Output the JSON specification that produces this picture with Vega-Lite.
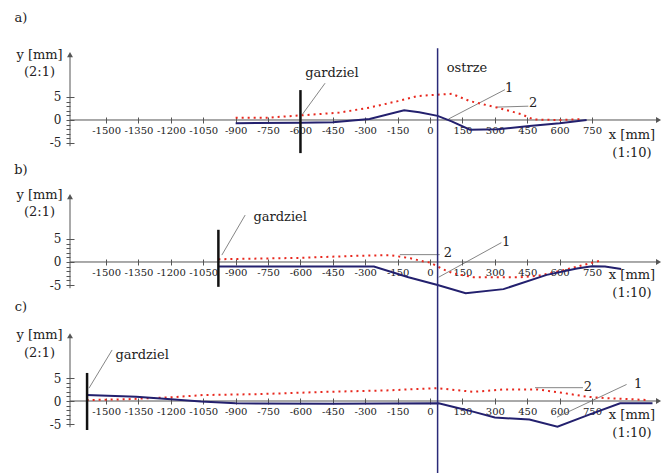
{
  "$schema": "https://vega.github.io/schema/vega-lite/v6.json",
  "padding": {"left": 5, "top": 5, "right": 5, "bottom": 0},
  "spacing": 0,
  "bounds": "flush",
  "config": {
    "view": {"stroke": null},
    "font": "DejaVu Serif",
    "axis": {
      "grid": false, "domain": false, "title": null,
      "labelFont": "DejaVu Serif", "labelFontSize": 10, "labelColor": "#222",
      "tickColor": "#555", "tickWidth": 1,
      "labelOverlap": false, "labelFlush": false, "labelBound": false
    }
  },
  "datasets": {
    "curves": [
      {"p":"a","s":"1","x":-900,"y":-0.7},{"p":"a","s":"1","x":-600,"y":-0.6},{"p":"a","s":"1","x":-450,"y":-0.5},{"p":"a","s":"1","x":-280,"y":0.2},{"p":"a","s":"1","x":-120,"y":2.1},{"p":"a","s":"1","x":-50,"y":1.7},{"p":"a","s":"1","x":35,"y":0.9},{"p":"a","s":"1","x":100,"y":-0.3},{"p":"a","s":"1","x":185,"y":-2.1},{"p":"a","s":"1","x":315,"y":-2.0},{"p":"a","s":"1","x":460,"y":-1.3},{"p":"a","s":"1","x":600,"y":-0.7},{"p":"a","s":"1","x":725,"y":0},
      {"p":"a","s":"2","x":-900,"y":0.5},{"p":"a","s":"2","x":-750,"y":0.5},{"p":"a","s":"2","x":-600,"y":1.0},{"p":"a","s":"2","x":-420,"y":1.6},{"p":"a","s":"2","x":-280,"y":2.7},{"p":"a","s":"2","x":-150,"y":4.1},{"p":"a","s":"2","x":-60,"y":5.2},{"p":"a","s":"2","x":0,"y":5.4},{"p":"a","s":"2","x":100,"y":5.7},{"p":"a","s":"2","x":185,"y":4.1},{"p":"a","s":"2","x":310,"y":2.7},{"p":"a","s":"2","x":420,"y":1.3},{"p":"a","s":"2","x":480,"y":0.1},{"p":"a","s":"2","x":600,"y":0},{"p":"a","s":"2","x":710,"y":0.2},
      {"p":"b","s":"1","x":-980,"y":-1.0},{"p":"b","s":"1","x":-600,"y":-1.0},{"p":"b","s":"1","x":-260,"y":-1.0},{"p":"b","s":"1","x":-100,"y":-3.3},{"p":"b","s":"1","x":35,"y":-5.0},{"p":"b","s":"1","x":165,"y":-6.8},{"p":"b","s":"1","x":340,"y":-5.9},{"p":"b","s":"1","x":540,"y":-2.8},{"p":"b","s":"1","x":680,"y":-1.4},{"p":"b","s":"1","x":750,"y":-0.9},{"p":"b","s":"1","x":810,"y":-1.0},{"p":"b","s":"1","x":885,"y":-1.5},
      {"p":"b","s":"2","x":-980,"y":0.6},{"p":"b","s":"2","x":-600,"y":0.9},{"p":"b","s":"2","x":-370,"y":1.3},{"p":"b","s":"2","x":-185,"y":1.5},{"p":"b","s":"2","x":-90,"y":0.8},{"p":"b","s":"2","x":-30,"y":0.1},{"p":"b","s":"2","x":0,"y":-0.1},{"p":"b","s":"2","x":60,"y":-1.6},{"p":"b","s":"2","x":110,"y":-2.5},{"p":"b","s":"2","x":200,"y":-3.3},{"p":"b","s":"2","x":420,"y":-3.3},{"p":"b","s":"2","x":500,"y":-3.0},{"p":"b","s":"2","x":570,"y":-2.3},{"p":"b","s":"2","x":650,"y":-1.4},{"p":"b","s":"2","x":730,"y":-0.4},{"p":"b","s":"2","x":790,"y":0.3},
      {"p":"c","s":"1","x":-1590,"y":1.3},{"p":"c","s":"1","x":-1360,"y":0.9},{"p":"c","s":"1","x":-1200,"y":0.4},{"p":"c","s":"1","x":-1060,"y":-0.1},{"p":"c","s":"1","x":-900,"y":-0.5},{"p":"c","s":"1","x":-450,"y":-0.6},{"p":"c","s":"1","x":40,"y":-0.5},{"p":"c","s":"1","x":110,"y":-1.3},{"p":"c","s":"1","x":190,"y":-2.2},{"p":"c","s":"1","x":300,"y":-3.6},{"p":"c","s":"1","x":460,"y":-4.0},{"p":"c","s":"1","x":590,"y":-5.6},{"p":"c","s":"1","x":740,"y":-2.9},{"p":"c","s":"1","x":880,"y":-0.5},{"p":"c","s":"1","x":1030,"y":-0.5},
      {"p":"c","s":"2","x":-1590,"y":0.2},{"p":"c","s":"2","x":-1400,"y":0.4},{"p":"c","s":"2","x":-1200,"y":0.8},{"p":"c","s":"2","x":-1050,"y":1.3},{"p":"c","s":"2","x":-790,"y":1.5},{"p":"c","s":"2","x":-480,"y":2.0},{"p":"c","s":"2","x":-200,"y":2.3},{"p":"c","s":"2","x":30,"y":2.8},{"p":"c","s":"2","x":200,"y":2.0},{"p":"c","s":"2","x":340,"y":2.5},{"p":"c","s":"2","x":500,"y":2.5},{"p":"c","s":"2","x":610,"y":1.8},{"p":"c","s":"2","x":730,"y":0.9},{"p":"c","s":"2","x":830,"y":0.6},{"p":"c","s":"2","x":970,"y":0.3},{"p":"c","s":"2","x":1010,"y":0.2}
    ],
    "axes": [
      {"p":"a","x":-1667,"y":0,"x2":1055,"y2":0},{"p":"a","x":-1667,"y":-5.7,"x2":-1667,"y2":14},
      {"p":"b","x":-1667,"y":0,"x2":1055,"y2":0},{"p":"b","x":-1667,"y":-5.7,"x2":-1667,"y2":14},
      {"p":"c","x":-1667,"y":0,"x2":1055,"y2":0},{"p":"c","x":-1667,"y":-5.7,"x2":-1667,"y2":14}
    ],
    "arrows": [
      {"p":"a","k":"x","x":1058,"y":0},{"p":"a","k":"y","x":-1667,"y":14.2},
      {"p":"b","k":"x","x":1058,"y":0},{"p":"b","k":"y","x":-1667,"y":14.2},
      {"p":"c","k":"x","x":1058,"y":0},{"p":"c","k":"y","x":-1667,"y":14.2}
    ],
    "ostrze": [
      {"p":"a","x":35,"y":15.6,"y2":-8.7},
      {"p":"b","x":35,"y":22.17,"y2":-8.26},
      {"p":"c","x":35,"y":21.96,"y2":-15.65}
    ],
    "gardziel": [
      {"p":"a","x":-600,"y":6.5,"y2":-7.2},
      {"p":"b","x":-980,"y":7.0,"y2":-5.4},
      {"p":"c","x":-1588,"y":6.1,"y2":-6.3}
    ],
    "leaders": [
      {"p":"a","x":-593,"y":1.1,"x2":-486,"y2":8.0},{"p":"a","x":85,"y":0.2,"x2":347,"y2":6.6},{"p":"a","x":310,"y":2.8,"x2":455,"y2":3.0},
      {"p":"b","x":-964,"y":1.5,"x2":-856,"y2":10.2},{"p":"b","x":-140,"y":1.6,"x2":45,"y2":1.6},{"p":"b","x":40,"y":-3.3,"x2":330,"y2":4.2},
      {"p":"c","x":-1579,"y":2.8,"x2":-1472,"y2":11.1},{"p":"c","x":486,"y":2.9,"x2":708,"y2":2.9},{"p":"c","x":588,"y":-3.5,"x2":910,"y2":3.6}
    ],
    "labels": [
      {"p":"a","t":"a)","x":-1894,"y":22.2},{"p":"a","t":"y [mm]","x":-1808,"y":14.1},{"p":"a","t":"(2:1)","x":-1808,"y":10.4},{"p":"a","t":"gardziel","x":-454,"y":10.2},{"p":"a","t":"ostrze","x":171,"y":11.3},{"p":"a","t":"1","x":366,"y":6.9},{"p":"a","t":"2","x":477,"y":3.7},{"p":"a","t":"x [mm]","x":935,"y":-3.3},{"p":"a","t":"(1:10)","x":935,"y":-7.2},
      {"p":"b","t":"b)","x":-1894,"y":20.0},{"p":"b","t":"y [mm]","x":-1808,"y":14.6},{"p":"b","t":"(2:1)","x":-1808,"y":10.9},{"p":"b","t":"gardziel","x":-694,"y":9.8},{"p":"b","t":"2","x":83,"y":2.0},{"p":"b","t":"1","x":352,"y":4.3},{"p":"b","t":"x [mm]","x":935,"y":-2.8},{"p":"b","t":"(1:10)","x":935,"y":-6.7},
      {"p":"c","t":"c)","x":-1894,"y":20.5},{"p":"c","t":"y [mm]","x":-1808,"y":14.3},{"p":"c","t":"(2:1)","x":-1808,"y":10.4},{"p":"c","t":"gardziel","x":-1333,"y":10.0},{"p":"c","t":"2","x":731,"y":3.0},{"p":"c","t":"1","x":963,"y":3.6},{"p":"c","t":"x [mm]","x":935,"y":-3.0},{"p":"c","t":"(1:10)","x":935,"y":-7.0}
    ]
  },
  "vconcat": [
    {
      "width": 657, "height": 155,
      "encoding": {
        "x": {"field": "x", "type": "quantitative", "scale": {"domain": [-1968, 1074], "nice": false, "zero": false},
          "axis": {"orient": "bottom", "offset": -43, "tickSize": 6, "labelPadding": 2, "values": [-1500,-1350,-1200,-1050,-900,-750,-600,-450,-300,-150,0,150,300,450,600,750], "labelExpr": "'' + datum.value"}},
        "y": {"field": "y", "type": "quantitative", "scale": {"domain": [-8.7, 25.0], "nice": false, "zero": false},
          "axis": {"orient": "left", "offset": -69, "tickSize": 8, "labelPadding": 5, "values": [-5,-4,-3,-2,-1,0,1,2,3,4,5],
            "tickDash": {"condition": {"test": "datum.value % 5 === 0", "value": []}, "value": [0, 4, 4, 100]},
            "labelExpr": "datum.value % 5 === 0 ? '' + datum.value : ''", "labelFontSize": 12}}
      },
      "layer": [
        {"data": {"name": "axes"}, "transform": [{"filter": "datum.p === 'a'"}], "mark": {"type": "rule", "color": "#555", "strokeWidth": 1}, "encoding": {"x2": {"field": "x2"}, "y2": {"field": "y2"}}},
        {"data": {"name": "arrows"}, "transform": [{"filter": "datum.p === 'a' && datum.k === 'x'"}], "mark": {"type": "point", "shape": "triangle-right", "filled": true, "size": 35, "color": "#555", "opacity": 1}},
        {"data": {"name": "arrows"}, "transform": [{"filter": "datum.p === 'a' && datum.k === 'y'"}], "mark": {"type": "point", "shape": "triangle-up", "filled": true, "size": 35, "color": "#555", "opacity": 1}},
        {"data": {"name": "leaders"}, "transform": [{"filter": "datum.p === 'a'"}], "mark": {"type": "rule", "color": "#666", "strokeWidth": 0.8}, "encoding": {"x2": {"field": "x2"}, "y2": {"field": "y2"}}},
        {"data": {"name": "curves"}, "transform": [{"filter": "datum.p === 'a' && datum.s === '2'"}], "mark": {"type": "line", "color": "#e8281e", "strokeWidth": 2, "strokeDash": [2, 4]}},
        {"data": {"name": "curves"}, "transform": [{"filter": "datum.p === 'a' && datum.s === '1'"}], "mark": {"type": "line", "color": "#23206e", "strokeWidth": 2}},
        {"data": {"name": "gardziel"}, "transform": [{"filter": "datum.p === 'a'"}], "mark": {"type": "rule", "color": "#111", "strokeWidth": 2.5}, "encoding": {"y2": {"field": "y2"}}},
        {"data": {"name": "ostrze"}, "transform": [{"filter": "datum.p === 'a'"}], "mark": {"type": "rule", "color": "#2a2a78", "strokeWidth": 1.5}, "encoding": {"y2": {"field": "y2"}}},
        {"data": {"name": "labels"}, "transform": [{"filter": "datum.p === 'a'"}], "mark": {"type": "text", "font": "DejaVu Serif", "fontSize": 13, "color": "#222", "align": "center", "baseline": "middle"}, "encoding": {"text": {"field": "t"}}}
      ]
    },
    {
      "width": 657, "height": 140,
      "encoding": {
        "x": {"field": "x", "type": "quantitative", "scale": {"domain": [-1968, 1074], "nice": false, "zero": false},
          "axis": {"orient": "bottom", "offset": -41, "tickSize": 6, "labelPadding": 2, "values": [-1500,-1350,-1200,-1050,-900,-750,-600,-450,-300,-150,0,150,300,450,600,750], "labelExpr": "'' + datum.value"}},
        "y": {"field": "y", "type": "quantitative", "scale": {"domain": [-8.26, 22.17], "nice": false, "zero": false},
          "axis": {"orient": "left", "offset": -69, "tickSize": 8, "labelPadding": 5, "values": [-5,-4,-3,-2,-1,0,1,2,3,4,5],
            "tickDash": {"condition": {"test": "datum.value % 5 === 0", "value": []}, "value": [0, 4, 4, 100]},
            "labelExpr": "datum.value % 5 === 0 ? '' + datum.value : ''", "labelFontSize": 12}}
      },
      "layer": [
        {"data": {"name": "axes"}, "transform": [{"filter": "datum.p === 'b'"}], "mark": {"type": "rule", "color": "#555", "strokeWidth": 1}, "encoding": {"x2": {"field": "x2"}, "y2": {"field": "y2"}}},
        {"data": {"name": "arrows"}, "transform": [{"filter": "datum.p === 'b' && datum.k === 'x'"}], "mark": {"type": "point", "shape": "triangle-right", "filled": true, "size": 35, "color": "#555", "opacity": 1}},
        {"data": {"name": "arrows"}, "transform": [{"filter": "datum.p === 'b' && datum.k === 'y'"}], "mark": {"type": "point", "shape": "triangle-up", "filled": true, "size": 35, "color": "#555", "opacity": 1}},
        {"data": {"name": "leaders"}, "transform": [{"filter": "datum.p === 'b'"}], "mark": {"type": "rule", "color": "#666", "strokeWidth": 0.8}, "encoding": {"x2": {"field": "x2"}, "y2": {"field": "y2"}}},
        {"data": {"name": "curves"}, "transform": [{"filter": "datum.p === 'b' && datum.s === '2'"}], "mark": {"type": "line", "color": "#e8281e", "strokeWidth": 2, "strokeDash": [2, 4]}},
        {"data": {"name": "curves"}, "transform": [{"filter": "datum.p === 'b' && datum.s === '1'"}], "mark": {"type": "line", "color": "#23206e", "strokeWidth": 2}},
        {"data": {"name": "gardziel"}, "transform": [{"filter": "datum.p === 'b'"}], "mark": {"type": "rule", "color": "#111", "strokeWidth": 2.5}, "encoding": {"y2": {"field": "y2"}}},
        {"data": {"name": "ostrze"}, "transform": [{"filter": "datum.p === 'b'"}], "mark": {"type": "rule", "color": "#2a2a78", "strokeWidth": 1.5}, "encoding": {"y2": {"field": "y2"}}},
        {"data": {"name": "labels"}, "transform": [{"filter": "datum.p === 'b'"}], "mark": {"type": "text", "font": "DejaVu Serif", "fontSize": 13, "color": "#222", "align": "center", "baseline": "middle"}, "encoding": {"text": {"field": "t"}}}
      ]
    },
    {
      "width": 657, "height": 173,
      "encoding": {
        "x": {"field": "x", "type": "quantitative", "scale": {"domain": [-1968, 1074], "nice": false, "zero": false},
          "axis": {"orient": "bottom", "offset": -75, "tickSize": 6, "labelPadding": 2, "values": [-1500,-1350,-1200,-1050,-900,-750,-600,-450,-300,-150,0,150,300,450,600,750], "labelExpr": "'' + datum.value"}},
        "y": {"field": "y", "type": "quantitative", "scale": {"domain": [-15.65, 21.96], "nice": false, "zero": false},
          "axis": {"orient": "left", "offset": -69, "tickSize": 8, "labelPadding": 5, "values": [-5,-4,-3,-2,-1,0,1,2,3,4,5],
            "tickDash": {"condition": {"test": "datum.value % 5 === 0", "value": []}, "value": [0, 4, 4, 100]},
            "labelExpr": "datum.value % 5 === 0 ? '' + datum.value : ''", "labelFontSize": 12}}
      },
      "layer": [
        {"data": {"name": "axes"}, "transform": [{"filter": "datum.p === 'c'"}], "mark": {"type": "rule", "color": "#555", "strokeWidth": 1}, "encoding": {"x2": {"field": "x2"}, "y2": {"field": "y2"}}},
        {"data": {"name": "arrows"}, "transform": [{"filter": "datum.p === 'c' && datum.k === 'x'"}], "mark": {"type": "point", "shape": "triangle-right", "filled": true, "size": 35, "color": "#555", "opacity": 1}},
        {"data": {"name": "arrows"}, "transform": [{"filter": "datum.p === 'c' && datum.k === 'y'"}], "mark": {"type": "point", "shape": "triangle-up", "filled": true, "size": 35, "color": "#555", "opacity": 1}},
        {"data": {"name": "leaders"}, "transform": [{"filter": "datum.p === 'c'"}], "mark": {"type": "rule", "color": "#666", "strokeWidth": 0.8}, "encoding": {"x2": {"field": "x2"}, "y2": {"field": "y2"}}},
        {"data": {"name": "curves"}, "transform": [{"filter": "datum.p === 'c' && datum.s === '2'"}], "mark": {"type": "line", "color": "#e8281e", "strokeWidth": 2, "strokeDash": [2, 4]}},
        {"data": {"name": "curves"}, "transform": [{"filter": "datum.p === 'c' && datum.s === '1'"}], "mark": {"type": "line", "color": "#23206e", "strokeWidth": 2}},
        {"data": {"name": "gardziel"}, "transform": [{"filter": "datum.p === 'c'"}], "mark": {"type": "rule", "color": "#111", "strokeWidth": 2.5}, "encoding": {"y2": {"field": "y2"}}},
        {"data": {"name": "ostrze"}, "transform": [{"filter": "datum.p === 'c'"}], "mark": {"type": "rule", "color": "#2a2a78", "strokeWidth": 1.5}, "encoding": {"y2": {"field": "y2"}}},
        {"data": {"name": "labels"}, "transform": [{"filter": "datum.p === 'c'"}], "mark": {"type": "text", "font": "DejaVu Serif", "fontSize": 13, "color": "#222", "align": "center", "baseline": "middle"}, "encoding": {"text": {"field": "t"}}}
      ]
    }
  ]
}
